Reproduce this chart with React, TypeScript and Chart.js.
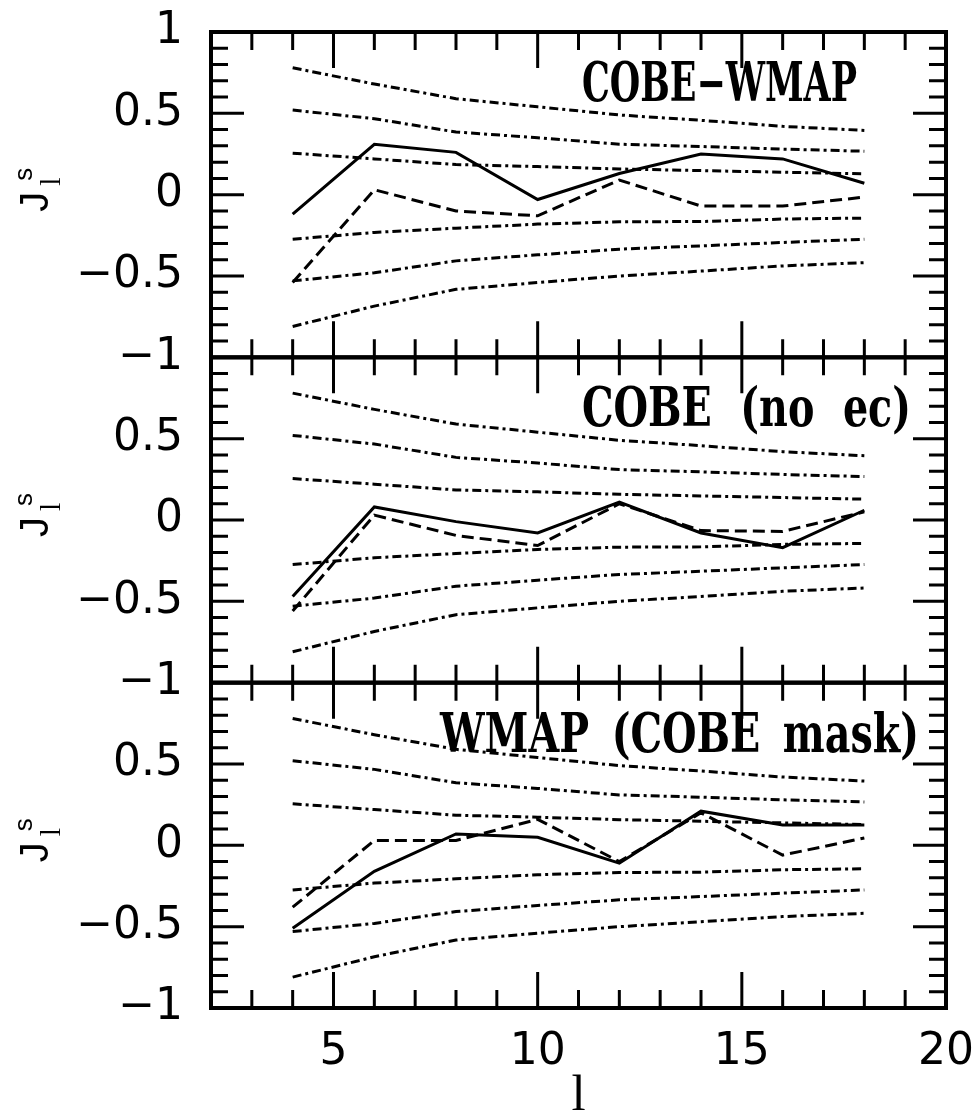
import React, { useEffect, useRef } from 'react';
import { Chart, registerables } from 'chart.js';

Chart.register(...registerables);

// multipoles
const ells = [4, 6, 8, 10, 12, 14, 16, 18];

// confidence envelopes (same in every panel)
const band1 = [0.78, 0.68, 0.59, 0.54, 0.49, 0.457, 0.42, 0.395];
const band2 = [0.52, 0.467, 0.385, 0.35, 0.31, 0.296, 0.28, 0.267];
const band3 = [0.255, 0.22, 0.185, 0.173, 0.158, 0.148, 0.138, 0.128];
const band4 = [-0.274, -0.232, -0.206, -0.181, -0.167, -0.165, -0.15, -0.144];
const band5 = [-0.53, -0.48, -0.407, -0.37, -0.335, -0.315, -0.294, -0.274];
const band6 = [-0.81, -0.685, -0.582, -0.54, -0.5, -0.47, -0.438, -0.418];

// panel 1: COBE-WMAP
const cobeWmapSolid = [-0.12, 0.31, 0.26, -0.03, 0.13, 0.25, 0.22, 0.07];
const cobeWmapDashed = [-0.54, 0.03, -0.1, -0.13, 0.09, -0.07, -0.07, -0.015];
// panel 2: COBE (no ec)
const cobeNoEcSolid = [-0.47, 0.08, -0.01, -0.08, 0.11, -0.08, -0.17, 0.06];
const cobeNoEcDashed = [-0.56, 0.03, -0.095, -0.157, 0.1, -0.065, -0.07, 0.05];
// panel 3: WMAP (COBE mask)
const wmapMaskSolid = [-0.51, -0.16, 0.07, 0.05, -0.11, 0.21, 0.125, 0.125];
const wmapMaskDashed = [-0.38, 0.03, 0.03, 0.16, -0.1, 0.2, -0.06, 0.045];

const panelTitles = ['COBE\u2212WMAP', 'COBE (no ec)', 'WMAP (COBE mask)'];
const panelSolid = [cobeWmapSolid, cobeNoEcSolid, wmapMaskSolid];
const panelDashed = [cobeWmapDashed, cobeNoEcDashed, wmapMaskDashed];
const bands = [band1, band2, band3, band4, band5, band6];

const xTickValues = [5, 10, 15, 20];
const xTickLabels = ['5', '10', '15', '20'];
const yTickValues = [1, 0.5, 0, -0.5, -1];
const yTickLabels = ['1', '0.5', '0', '\u22120.5', '\u22121'];

const panelIds = ['yTop', 'yMid', 'yBot'];
// title horizontal extents (left, right) in px
const titleExtents = [
  [582, 857],
  [582, 911],
  [440, 919],
];

function pts(vals: number[]) {
  return ells.map((l, j) => ({ x: l, y: vals[j] }));
}

function zeroPadding(s: any) {
  s.paddingTop = 0;
  s.paddingBottom = 0;
  s.paddingLeft = 0;
  s.paddingRight = 0;
}

function drawTitle(ctx: CanvasRenderingContext2D, text: string, left: number, right: number, baseline: number) {
  ctx.font = 'bold 54px "DejaVu Serif"';
  ctx.textAlign = 'left';
  ctx.textBaseline = 'alphabetic';
  const words = text.split(' ');
  const ws = words.map((w) => ctx.measureText(w).width);
  const total = right - left;
  let sx: number;
  let gap: number;
  if (words.length === 1) {
    sx = total / ws[0];
    gap = 0;
  } else {
    sx = 0.734;
    gap = (total - ws.reduce((a, b) => a + b, 0) * sx) / (words.length - 1);
  }
  let x = left;
  words.forEach((w, i) => {
    ctx.save();
    ctx.translate(x, baseline);
    ctx.scale(sx, 1);
    ctx.fillText(w, 0, 0);
    ctx.restore();
    x += ws[i] * sx + gap;
  });
}

const framePlugin = {
  id: 'framePlugin',
  afterDraw(chart: any) {
    const ctx: CanvasRenderingContext2D = chart.ctx;
    const xs = chart.scales.x;
    const L = chart.chartArea.left;
    const R = chart.chartArea.right;
    ctx.save();
    ctx.strokeStyle = '#000';
    ctx.fillStyle = '#000';
    panelIds.forEach((id, i) => {
      const ys = chart.scales[id];
      const T = ys.getPixelForValue(1);
      const B = ys.getPixelForValue(-1);
      ctx.lineWidth = 3;
      ctx.lineCap = 'butt';
      ctx.beginPath();
      for (let k = 3; k <= 19; k++) {
        const px = xs.getPixelForValue(k);
        const len = k % 5 === 0 ? 36 : 18;
        ctx.moveTo(px, T);
        ctx.lineTo(px, T + len);
        ctx.moveTo(px, B);
        ctx.lineTo(px, B - len);
      }
      for (let k = -9; k <= 9; k++) {
        const py = ys.getPixelForValue(k / 10);
        const len = k % 5 === 0 ? 33 : 17;
        ctx.moveTo(L, py);
        ctx.lineTo(L + len, py);
        ctx.moveTo(R, py);
        ctx.lineTo(R - len, py);
      }
      ctx.stroke();
      ctx.lineWidth = 4;
      ctx.strokeRect(L, T, R - L, B - T);

      // panel title
      drawTitle(ctx, panelTitles[i], titleExtents[i][0], titleExtents[i][1], T + 69);

      // y-axis label J_l^s (rotated)
      const cy = (T + B) / 2 - 2;
      ctx.save();
      ctx.translate(48, cy);
      ctx.rotate(-Math.PI / 2);
      ctx.textAlign = 'left';
      ctx.textBaseline = 'alphabetic';
      ctx.font = '40px "Liberation Sans"';
      ctx.fillText('J', -19, 0);
      ctx.font = '26px "Liberation Sans"';
      ctx.fillText('s', 12, -16);
      ctx.font = '30px "Liberation Serif"';
      ctx.fillText('l', 7, 12);
      ctx.restore();
    });
    // x-axis title
    ctx.font = '51px "Liberation Serif"';
    ctx.textAlign = 'center';
    ctx.textBaseline = 'alphabetic';
    ctx.fillText('l', (L + R) / 2, 1110);
    ctx.restore();
  },
};

export default function App() {
  const ref = useRef<HTMLCanvasElement | null>(null);

  useEffect(() => {
    if (!ref.current) return;
    const datasets: any[] = [];
    panelIds.forEach((id, i) => {
      bands.forEach((b) => {
        datasets.push({
          data: pts(b),
          yAxisID: id,
          borderColor: '#000',
          borderWidth: 3,
          borderDash: [9, 4, 3, 4],
          pointRadius: 0,
          fill: false,
          tension: 0,
        });
      });
      datasets.push({
        data: pts(panelSolid[i]),
        yAxisID: id,
        borderColor: '#000',
        borderWidth: 3,
        pointRadius: 0,
        fill: false,
        tension: 0,
      });
      datasets.push({
        data: pts(panelDashed[i]),
        yAxisID: id,
        borderColor: '#000',
        borderWidth: 3,
        borderDash: [12, 6],
        pointRadius: 0,
        fill: false,
        tension: 0,
      });
    });

    const makeY = (i: number) => ({
      type: 'linear',
      position: 'left',
      stack: 'panels',
      stackWeight: 1,
      weight: 3 - i,
      min: -1,
      max: 1,
      grid: { display: false, drawTicks: false },
      border: { display: false },
      afterBuildTicks: (s: any) => {
        s.ticks = yTickValues.map((v) => ({ value: v }));
      },
      afterFit: (s: any) => {
        s.width = 211;
        zeroPadding(s);
      },
      ticks: {
        autoSkip: false,
        padding: 28,
        color: '#000',
        font: { family: 'DejaVu Sans', size: 44 },
        callback: (_v: any, idx: number) => (i > 0 && idx === 0 ? '' : yTickLabels[idx]),
      },
    });

    const chart = new Chart(ref.current, {
      type: 'line',
      data: { datasets },
      options: {
        responsive: false,
        maintainAspectRatio: false,
        devicePixelRatio: 1,
        animation: false,
        layout: { padding: { top: 32, right: 29, left: 0, bottom: 0 } },
        plugins: { legend: { display: false }, tooltip: { enabled: false }, title: { display: false } },
        scales: {
          x: {
            type: 'linear',
            position: 'bottom',
            min: 2,
            max: 20,
            grid: { display: false, drawTicks: false },
            border: { display: false },
            afterBuildTicks: (s: any) => {
              s.ticks = xTickValues.map((v) => ({ value: v }));
            },
            afterFit: (s: any) => {
              s.height = 104;
              zeroPadding(s);
            },
            ticks: {
              autoSkip: false,
              maxRotation: 0,
              padding: 18,
              color: '#000',
              font: { family: 'DejaVu Sans', size: 44 },
              callback: (_v: any, idx: number) => xTickLabels[idx],
            },
          },
          yTop: makeY(0),
          yMid: makeY(1),
          yBot: makeY(2),
        } as any,
      },
      plugins: [framePlugin],
    } as any);
    return () => chart.destroy();
  }, []);

  return (
    <div style={{ position: 'fixed', left: 0, top: 0, width: 975, height: 1112, background: '#fff' }}>
      <canvas ref={ref} width={975} height={1112} style={{ display: 'block', width: 975, height: 1112 }} />
    </div>
  );
}
